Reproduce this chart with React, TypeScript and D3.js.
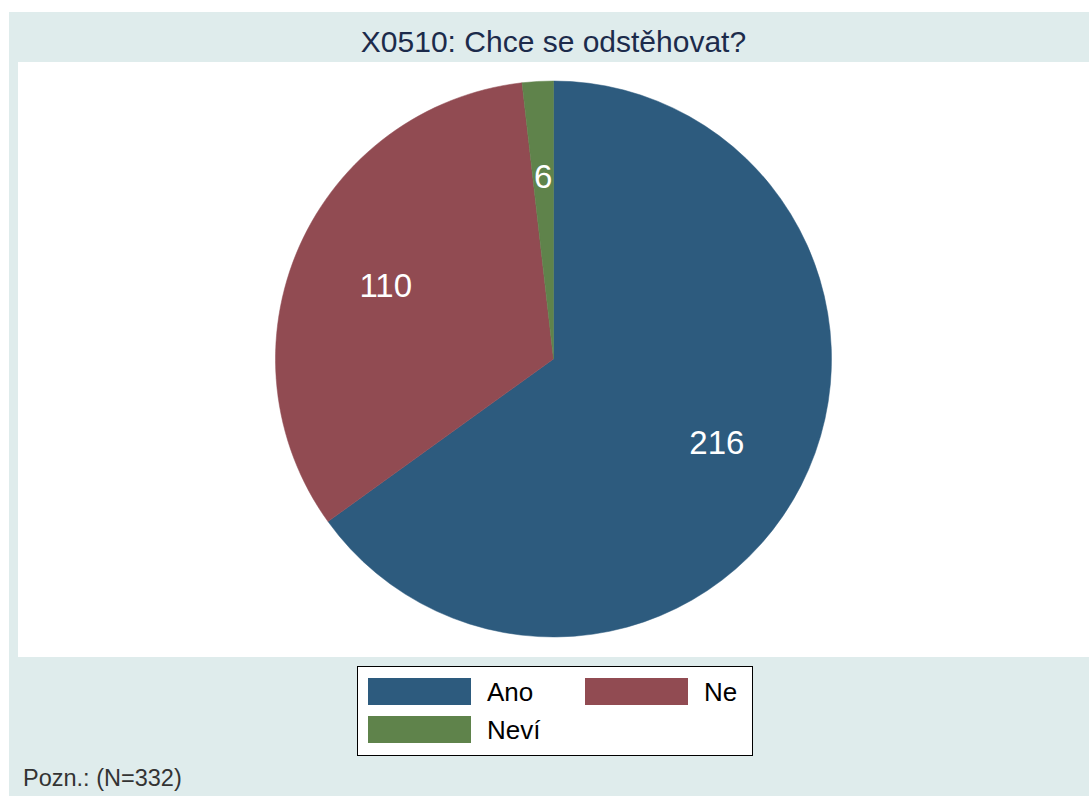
import React from "react";
import * as d3 from "d3";

const categories = ["Ano", "Ne", "Neví"];
const values = [216, 110, 6];
const colors = ["#2d5b7e", "#914b52", "#5f834b"];
const title = "X0510: Chce se odstěhovat?";
const note = "Pozn.: (N=332)";

export default function App() {
  const W = 1089;
  const H = 796;
  const cx = 553.5;
  const cy = 359;
  const R = 278;

  const pie = d3
    .pie<number>()
    .sort(null)
    .value((d) => d)
    .startAngle(0)
    .endAngle(2 * Math.PI);
  const arcs = pie(values);
  const arc = d3.arc<d3.PieArcDatum<number>>().innerRadius(0).outerRadius(R);
  const labelArc = d3
    .arc<d3.PieArcDatum<number>>()
    .innerRadius(R * 0.66)
    .outerRadius(R * 0.66);

  const font = "'Liberation Sans', Arial, sans-serif";

  // legend layout
  const legX = 357;
  const legY = 666;
  const legW = 395;
  const legH = 89;
  const swW = 103;
  const swH = 27;
  const colX = [368, 585];
  const rowY = [678, 716];

  return (
    <svg
      width={W}
      height={H}
      style={{ position: "fixed", left: 0, top: 0, display: "block" }}
      fontFamily={font}
    >
      <rect x={0} y={0} width={W} height={H} fill="#ffffff" />
      <rect x={9} y={12} width={W - 9} height={H - 12} fill="#dfecec" />
      <rect x={18} y={62} width={W - 18} height={595} fill="#ffffff" />
      <text
        x={cx}
        y={52}
        textAnchor="middle"
        fontSize={30}
        fill="#1c2b4b"
      >
        {title}
      </text>
      <g transform={`translate(${cx},${cy})`}>
        {arcs.map((a, i) => (
          <path key={i} d={arc(a) || ""} fill={colors[i]} stroke={colors[i]} strokeWidth={0.5} />
        ))}
        {arcs.map((a, i) => {
          const [lx, ly] = labelArc.centroid(a);
          return (
            <text
              key={"l" + i}
              x={lx}
              y={ly}
              dy="0.36em"
              textAnchor="middle"
              fontSize={33}
              fill="#ffffff"
            >
              {values[i]}
            </text>
          );
        })}
      </g>
      <rect
        x={legX + 0.5}
        y={legY + 0.5}
        width={legW}
        height={legH}
        fill="#ffffff"
        stroke="#000000"
        strokeWidth={1}
      />
      {categories.map((c, i) => {
        const col = i % 2;
        const row = Math.floor(i / 2);
        const x = colX[col];
        const y = rowY[row];
        return (
          <g key={"lg" + i}>
            <rect x={x} y={y} width={swW} height={swH} fill={colors[i]} />
            <text x={x + swW + 16} y={y + 23} fontSize={26} fill="#000000">
              {c}
            </text>
          </g>
        );
      })}
      <text x={23} y={786} fontSize={23.5} fill="#333333">
        {note}
      </text>
    </svg>
  );
}
